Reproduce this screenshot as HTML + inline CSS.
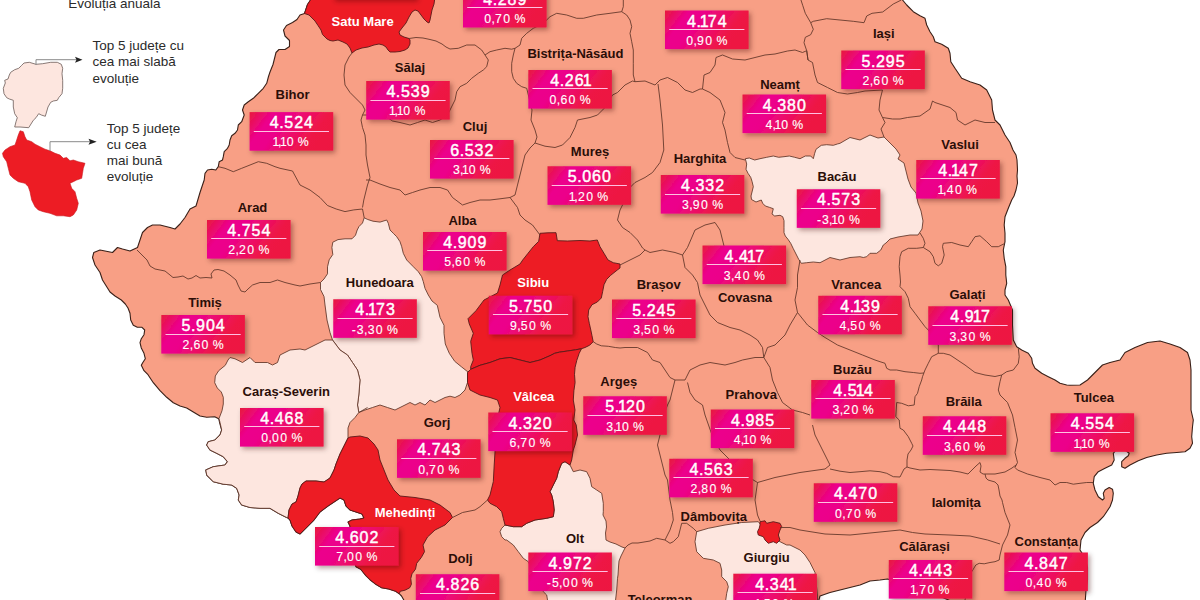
<!DOCTYPE html>
<html><head><meta charset="utf-8"><style>
html,body{margin:0;padding:0;background:#fff;}
body{width:1200px;height:600px;overflow:hidden;position:relative;font-family:"Liberation Sans",sans-serif;}
svg{position:absolute;left:0;top:0;}
</style></head><body>
<svg width="1200" height="600" viewBox="0 0 1200 600" font-family="Liberation Sans, sans-serif">
<defs>
<filter id="sh" x="-20%" y="-30%" width="150%" height="180%">
<feDropShadow dx="2.2" dy="2.4" stdDeviation="2.4" flood-color="#3a0000" flood-opacity="0.38"/>
</filter>
</defs>

<polygon points="310.5,-3 902.5,-3 902.5,0 906.7,5 913.3,11.7 920,15.8 925,18.3 926.7,25 930,31.7 933.3,36.7 935,41.7 941.7,44.2 948.3,48.3 950,53.3 950.8,61.7 955,68.3 961.7,78.3 970,81.7 980,85 986.7,90 991.7,100 992.5,110 995,120 1000,125 1005,135 1010,142.5 1013,150 1016,155 1017,160 1017.5,170 1017,176 1017.5,183 1016,190 1014,196 1011.7,200 1008.3,208.3 1005,216.7 1004.2,225 1005,233.3 1005,241.7 1003.3,250 1004.2,258.3 1005.8,266.7 1005.8,275 1006.7,283.3 1005,290 1005,295 1008.3,300 1012.5,310 1012.5,325 1013.3,340 1016.7,346.7 1021.7,350 1028.3,353.3 1031.7,358.3 1032.5,363.3 1035,368.3 1041.7,373.3 1048.3,376.7 1055,380 1060,383.3 1066.7,385 1070,385.3 1080,385 1087.5,380 1095,372.5 1102.5,365 1110,362.5 1120,360 1125,352.5 1135,347.5 1147.5,342.5 1160,341 1170,344 1180,347.5 1187.5,352.5 1190,360 1191,370 1191,390 1191,410 1193.3,420 1192.5,426.7 1191.7,436.7 1192.5,443.3 1190,448.3 1185,451.7 1176.7,452.5 1166.7,453.3 1156.7,455 1146.7,457.5 1138.3,460.8 1130,465 1125,468.3 1121.7,466.7 1121.7,461.7 1125,458.3 1128.3,455.8 1129.2,453.3 1125,450 1116,450 1113.3,453.3 1114.2,460 1111.7,465 1105,468.3 1098.3,471.7 1094.2,476.7 1093.3,483.3 1095,490 1098.3,496.7 1102.5,500 1104.2,498.3 1103.3,493.3 1105,490 1109.2,487.5 1112.5,489.2 1113.3,493.3 1112.5,500 1110,506.7 1106.7,511.7 1103.3,516.7 1100,520 1097.5,522.5 1090,527.5 1085,532.5 1081,540 1080,550 1085,557.5 1087.5,567.5 1087.5,580 1086,590 1085,605 960,605 930,592 887.5,579 880,580 870,581 860,585 850,587.5 840,590 830,592.5 820,596 817.5,605 405,605 403.8,600 401.5,596 399.2,593.7 395.7,591.3 388.7,589 381.7,587.8 375.8,584.3 370,579.7 365.3,575 360.7,569.2 356,566.8 352,555 350,540 350,527.5 350,526 348,522 352,520 360,519 364,518 362,514 356,512 350,510 346,506 344,500 340,498 334,502 328,506 320,512 314,520 306,528 300,534 296,532 292,526 290,520 288,518 286.7,517.5 278.3,513.3 270,508.3 260,508.3 250,507.5 241.7,505 238.3,500 239.2,495 236.7,488.3 231.7,485 223.3,484.2 213.3,481.7 206.7,475 205.8,470 213.3,466.7 225,465 227.5,461.7 223.3,456.7 216.7,453.3 210,450 206.7,445 208.3,441.7 215,440 220,435 221.7,430 220,424 218.7,418.7 214.7,416.7 206.7,417.3 200,416 193.3,412 186.7,408 180,406 173.3,402.7 166.7,397.3 160,390.7 153.3,382.7 148,374.7 144,370.7 141.3,365.3 142.7,362.7 145.3,358.7 144,353.3 141.3,348 140,342.7 141.3,338.7 144,334.7 144.7,330 142,327.3 137.3,327.3 133.3,325.3 130.7,320 130,313.3 128,308 125.3,304 121.3,300 115,296 110,292 107.5,288 102.5,280 100,272.5 95,265 92.5,257.5 93.8,252.5 100,250 105,251 112.5,252.5 115,250 117.5,247.5 122.5,249 130,251 137.5,247.5 140,240 142.5,232.5 147.5,227.5 152.5,225 160,225 170,227.5 175,229 180,224 185,217.5 190,209 196,206 197.5,201 200,192.5 202.5,185 204.2,180 205,173.3 207.5,170 211.7,169.2 215.8,170 218.3,166.7 219.2,161.7 222.5,160 223.3,156.7 224.2,151.7 227.5,148.3 229.2,145 230,140 231.7,135.8 235,133.3 237.5,130 238.3,125 241.7,121.7 244.2,115 242.5,110 244.2,105 248.3,101.7 253.3,98.3 258.3,93.3 263.3,88.3 266.7,83.3 266.7,83.3 268.5,76.5 270,72 273,64.5 274.5,58.5 276,52.5 279,49.5 285,49.5 289.5,46.5 289.5,40.5 285,36 283.5,30 286.5,25.5 292.5,22.5 297,19.5 300,15 304.5,13.5 306,9 307.5,4.5 310.5,0" fill="#f89f85" stroke="#3a2018" stroke-width="1.1" stroke-linejoin="round"/>
<polygon points="364.2,217.8 367.8,219.5 373,221.2 380,222.1 386.7,220 388.3,223.3 390,230 393.3,233.3 396.7,236.7 400,241.7 401.7,246.7 403.3,253.3 406.7,260 413.3,266.7 418.3,271.7 421.7,276.7 423.3,281.7 425,288.3 428.3,295 432,301 437.3,305.3 440,317.3 444,325.3 444,333.3 445.3,344 449.3,353.3 454.7,361.3 461.3,366.7 468,372 467.5,375 467.5,382.5 465,390 460,395 455,397.5 450,396.2 445,397.5 440,400 435,402.5 430,400 425,405 420,402.5 415,405 410,402.5 405,405 400,407.5 395,410 387.5,407.5 380,405 372.5,407.5 365,410 358.8,412.5 357.5,405 358.8,395 360,380 357.5,370 352.5,362.5 347.5,355 340,350 332.5,340 330,332.5 327,320 325,305 324,296.5 320.5,289.5 320.5,282.5 324,279 327.5,273.8 327.5,266.8 329.2,259.8 332.8,254.5 331.9,247.5 332.8,242.2 338,239.6 345,238.8 352,238.8 355.5,235.2 357.2,230 359,226.5 362.5,223" fill="#fde6df" stroke="#5e3427" stroke-width="0.85" stroke-linejoin="round"/>
<polygon points="219,418.5 222,410.7 223.3,404 223.3,397.3 221.3,392 217.3,388 214.7,382.7 215.3,376 218.7,370.7 225.3,365.3 228,360 230,357.5 235,358.8 242.5,362.5 250,357.5 255,362.5 267.5,362.5 272.5,365 277.5,362.5 280,355 290,350 300,349 305,350 310,347.5 315,345 325,340 332.5,340 340,350 347.5,355 352.5,362.5 357.5,370 360,380 358.8,395 357.5,405 358.8,412.5 355,417.5 350,422.5 348,428 348,438 344,446 340,454 336,464 334,470 330,478 324,482 316,481 306,481 302,484 300,488 298,496 296,502 292,504 289,510 288,518 286.7,517.5 278.3,513.3 270,508.3 260,508.3 250,507.5 241.7,505 238.3,500 239.2,495 236.7,488.3 231.7,485 223.3,484.2 213.3,481.7 206.7,475 205.8,470 213.3,466.7 225,465 227.5,461.7 223.3,456.7 216.7,453.3 210,450 206.7,445 208.3,441.7 215,440 220,435 221.7,430 220,422.5" fill="#fde6df" stroke="#5e3427" stroke-width="0.85" stroke-linejoin="round"/>
<polygon points="745.3,158.7 749.3,158 754.7,160 760,158.7 766.7,157.3 773.3,156 778.7,157.3 784,156.7 789.3,156 794.7,157.3 800,158.7 805.3,156 810.7,156 813.3,158.7 814.7,153.3 816,149.3 821.3,145.3 826.7,144.7 833.3,145.3 837.3,144 840,143.3 850,137.5 860,140 870,135 878,138 884,137 890,143 896,149 900,155 898,159 904,163 906,171 908,179 911,187 916,193 918,203 921,211 923,221 922,229 918,235 910,235 898,237 890,239 886,243 883.3,245 880.8,250 876.7,253.3 870,253.3 866.7,256.7 863.3,257.5 860,256.7 850,257.5 840,260 830,257.5 820,262.7 813.3,262 806.7,262.7 801.3,263.3 798.7,259.3 796,254 793.3,248.7 790.7,243.3 788,239.3 785.3,236 784,232.7 784,227.3 784,220.7 782.7,216.7 780,215.3 774.7,216 772,214 773.3,208.7 769.3,207.3 765.3,206 762.7,203.3 761.3,200 756,202 751.5,199.5 751,196 752,192 753.3,186.7 752,181.3 750.7,177.3 748,173.3 746,169.3 746.7,164" fill="#fde6df" stroke="#5e3427" stroke-width="0.85" stroke-linejoin="round"/>
<polygon points="561.7,463.3 565,461.7 570,465 573.3,471.7 580,470 586.7,471.7 590,478.3 591.7,486.7 596.7,490 601.7,493.3 603.3,503.3 603.3,511.7 603,515 606,521 606.5,527 605.5,533 606,540 610,542 616,544 622,547 625,548 623,552 621,556 619,561 618.5,567 618,575 617.5,578.3 616.7,590 615,605 548.3,605 546.7,595 543.3,591.7 535,575 528.3,561.7 523.3,558.3 518.3,551.7 513.3,545 506.7,540 505,540 501.7,536.7 500,531.7 501.7,528.3 505,525 513.3,526.7 521.7,526.7 526.7,523.3 535,520 546.7,518.3 553.3,516.7 554.2,510 553.3,501.7 551.7,495 550,491.7 553.3,485 556.7,478.3 558.3,471.7" fill="#fde6df" stroke="#5e3427" stroke-width="0.85" stroke-linejoin="round"/>
<polygon points="696.7,531.7 708.3,528.3 725,525 741.7,522.5 758.3,521.7 765,530 775,538 780,541.7 786.7,545 790,545 800,550 805,555 810,562.5 815,572.5 816,582.5 817.5,595 817.5,605 725,605 726.7,593.3 728.3,586.7 726.7,581.7 721.7,576.7 721.7,570 720,563.3 713.3,560 703.3,558.3 696.7,551.7 695,541.7" fill="#fde6df" stroke="#5e3427" stroke-width="0.85" stroke-linejoin="round"/>
<polygon points="310.5,-3 310.5,0 307.5,4.5 306,9 304.5,13.5 309,15 312,18 315,21 318,25.5 321,30 322.5,34.5 327,39 330,40.5 333,41 338,40 343,42 347,44 350,48 352,53 356,50 362,48 368,47 374,45 379,44 383,45 386,47 388,50 390,52 395,52 400,51.5 405,50 408,48 410,44 410,40 409,38.5 404,37 400,35 399,32 402,28 406,23 409,17 412,12 415,10 418,11 421,15 424,19 427,22 429,23 430,20 431,15 432,10 434,4 435,-3" fill="#ed1c24" stroke="#5a1a18" stroke-width="0.9" stroke-linejoin="round"/>
<polygon points="540,233.3 548,232.8 556,232.7 557.3,240.7 567.5,241 580,240.5 590,241 597.3,240 600,246.7 604,253.3 608,260 613.3,262.7 620,264 620,268 617.3,270 610.7,275.3 606.7,279.3 604,284.7 602.7,291.3 601.3,298 597.3,302 592,304.7 588.7,310 588,316.7 589.3,323.3 590.8,330 592,335.8 593.2,341.7 589.7,345.2 585,347.5 581.5,348.7 575.7,349.8 567.5,351 559.3,352.2 554.7,353.3 550,355.7 540,360 530,362.5 520,360 510,357.5 500,358.8 490,362.5 480,365.3 470.7,369.3 470.7,366.7 473.3,360 472,353.3 470.7,341.3 473.3,333.3 469.3,324 468,318.7 476,310.7 484,300 497.5,293 500,285 502.5,275 510,270 520,264 522.7,260 528,253.3 533.3,246.7 538.7,241.3" fill="#ed1c24" stroke="#5a1a18" stroke-width="0.9" stroke-linejoin="round"/>
<polygon points="470.7,369.3 480,365.3 490,362.5 500,358.8 510,357.5 520,360 530,362.5 540,360 550,355.7 554.7,353.3 559.3,352.2 567.5,351 575.7,349.8 581.5,348.7 579.2,353.3 576.8,360.3 575.1,367.3 574.5,374.3 575.1,382.5 573.9,390.7 573.3,400 575,410 573.8,420 576.2,425 577.5,435 575,445 573.3,450 571.7,460 570,465 565,461.7 561.7,463.3 558.3,471.7 556.7,478.3 553.3,485 550,491.7 551.7,495 553.3,501.7 554.2,510 553.3,516.7 546.7,518.3 535,520 526.7,523.3 521.7,526.7 513.3,526.7 505,525 503.3,518.3 501.7,511.7 496.7,506.7 490,503.3 487.5,500 490,495 493.3,481.7 494.2,465 495,452 495,430 500,407.5 497.5,400 490,397.5 480,395 470,390 467.5,382.5 467.5,372.5" fill="#ed1c24" stroke="#5a1a18" stroke-width="0.9" stroke-linejoin="round"/>
<polygon points="348,438 350,437 360,436 368,438 374,444 378,450 380,460 384,470 388,480 394,490 400,496 415,497.5 430,500 440,505 450,512.5 452.5,517.5 445,525 435,530 427.5,537 423,545 424.5,551.7 421.3,557.5 416.7,563.3 415.5,569.2 412,573.8 410.8,578.5 411.4,584.3 409.7,587.8 405,590.2 400.3,591.3 399.2,593.7 395.7,591.3 388.7,589 381.7,587.8 375.8,584.3 370,579.7 365.3,575 360.7,569.2 356,566.8 352,555 350,540 350,527.5 350,526 348,522 352,520 360,519 364,518 362,514 356,512 350,510 346,506 344,500 340,498 334,502 328,506 320,512 314,520 306,528 300,534 296,532 292,526 290,520 288,518 289,510 292,504 296,502 298,496 300,488 302,484 306,481 316,481 324,482 330,478 334,470 336,464 340,454 344,446" fill="#ed1c24" stroke="#5a1a18" stroke-width="0.9" stroke-linejoin="round"/>
<polygon points="760,521.7 765,520.8 766.7,523.3 773.3,521.7 780,523.3 781.7,526.7 780,530 778.3,535 780,540 776.7,543.3 773.3,541.7 768.3,543.3 765,540 763.3,536.7 758.3,535 757.5,531.7 759.2,528.3 760,525" fill="#ed1c24" stroke="#5a1a18" stroke-width="0.9" stroke-linejoin="round"/>
<polyline points="352,53 349,57 345,65 344,75 345,85 350,92.5 357.5,100 362.5,105 365,110 362.5,115 361,120 362.5,127.5 365,135 366,145 366,155 367.5,165 370,177.5 367.5,185 363.8,200 362.5,207.5" fill="none" stroke="#5e3427" stroke-width="0.85" stroke-linejoin="round"/>
<polyline points="409,38.5 416,37.5 423,38 430,39.5 436,41 442,44 446,47 450,49 458.3,48.3 466.7,45 475,45 481.7,50 485,55 490,51.7 496.7,50 505,48.3 511.7,49.2 515,48.3 520,45 521.7,38.3 526.7,33.3 533.3,28.3 543.3,23.3 550,16.7 556.7,13.3 566.7,15 576.7,18.3 583.3,18.3 596.7,15 610,13.3 621.7,11.7 623.3,6.7 623.3,-3" fill="none" stroke="#5e3427" stroke-width="0.85" stroke-linejoin="round"/>
<polyline points="621.7,11.7 626.7,15 630,20 631.7,26.7 630,33.3 631.7,41.7 633.3,50 633.3,63.3 633.3,75 635,81.7" fill="none" stroke="#5e3427" stroke-width="0.85" stroke-linejoin="round"/>
<polyline points="485,55 488.3,60 486.7,66.7 483.3,70 478.3,73.3 471.7,78.3 466.7,83.3 460,86.7 456.7,91.7 455,100 450,110 447.5,115 440,120 432.5,122.5 425,120 417.5,122.5 410,125 400,122.5 392.5,121 387.5,117.5 375,115 362.5,115" fill="none" stroke="#5e3427" stroke-width="0.85" stroke-linejoin="round"/>
<polyline points="515,48.3 513.3,55 511.7,63.3 511.7,71.7 513.3,78.3 516.7,83.3 521.7,86.7 526.7,88.3 532,110 531,120 535,130 537,137 535,143 530,148 525,155 522.5,165 520,175 517.5,185 515,195 510,197.5" fill="none" stroke="#5e3427" stroke-width="0.85" stroke-linejoin="round"/>
<polyline points="535,143 545,146.2 555,147.5 562.5,145 570,137.5 575,127.5 577.5,120 590,117.5 597.5,115 602.5,110 605,107.5 612.5,95 617.5,92.5 625,85 632.5,81 635,81.7" fill="none" stroke="#5e3427" stroke-width="0.85" stroke-linejoin="round"/>
<polyline points="635,81.7 645,81 655,85 660,80 667.5,77.5 677.5,82.5 685,90 692.5,92.5 700,89 702.5,89" fill="none" stroke="#5e3427" stroke-width="0.85" stroke-linejoin="round"/>
<polyline points="658,84 660,100 662.5,125 663.8,150 660,162.5 652.5,172.5 645,177.5 635,182.5 627.5,190 625,200 620,210 617.5,220 622.5,227.5 630,232.5 637.5,240 642.5,248 645,250" fill="none" stroke="#5e3427" stroke-width="0.85" stroke-linejoin="round"/>
<polyline points="702.5,89 710,92.5 720,100 725,112.5 722.5,122.5 725,130 727.5,142.5 730,152.5 735,157.5 745,160" fill="none" stroke="#5e3427" stroke-width="0.85" stroke-linejoin="round"/>
<polyline points="702.5,89 704,75 710,72.5 715,65 716,57.5 722.5,55 732.5,59 745,60 755,57.5 765,55 775,54 787.5,51 795,50 802.5,52.5 806.7,50.7" fill="none" stroke="#5e3427" stroke-width="0.85" stroke-linejoin="round"/>
<polyline points="808,60 806.7,50.7 804,42.7 805.3,37.3 810.7,34.7 813.3,29.3 810.7,22.7 805.3,13.3 802.7,5.3 800,-3" fill="none" stroke="#5e3427" stroke-width="0.85" stroke-linejoin="round"/>
<polyline points="810.7,22.7 813.3,21.3 826.7,18.7 840,20 853.3,21.3 864,22.7 866.7,16 872,13.3 882.7,12 888,8 893.3,4 901.3,0" fill="none" stroke="#5e3427" stroke-width="0.85" stroke-linejoin="round"/>
<polyline points="806.7,50.7 808,60 812.5,62.5 815,75 817.5,82.5 827.5,87.5 837.5,92.5 847.5,94 857.5,92.5 865,91 882.5,90 880,100 879,110 882.5,117.5" fill="none" stroke="#5e3427" stroke-width="0.85" stroke-linejoin="round"/>
<polyline points="882.5,117.5 892.5,119 900,119 907.5,117.5 920,116 930,109 932.5,101 935,102.5 950,107.5 956,112.5 957.5,120 965,125 975,120 985,122.5 995,122.5" fill="none" stroke="#5e3427" stroke-width="0.85" stroke-linejoin="round"/>
<polyline points="882.5,117.5 885,122.5 881,129 884,137" fill="none" stroke="#5e3427" stroke-width="0.85" stroke-linejoin="round"/>
<polyline points="218.3,166.7 225,168.3 233.3,171.7 241.7,168.3 250,165 258.3,161.7 266.7,163.3 275,166.7 280,168.3 292.5,171 300,185 310,190 320,197.5 327.5,205.5 336.2,209 345,211.6 353.8,209.9 362.5,209" fill="none" stroke="#5e3427" stroke-width="0.85" stroke-linejoin="round"/>
<polyline points="362.5,209 364.2,217.8" fill="none" stroke="#5e3427" stroke-width="0.85" stroke-linejoin="round"/>
<polyline points="366,180 370,180 380,184 390,187.5 400,190 405,195 412.5,192.5 420,190 430,187.5 440,187.5 447.5,190 452.5,197.5 462.5,205 470,202.5 480,200 490,200 500,198.8 510,197.5" fill="none" stroke="#5e3427" stroke-width="0.85" stroke-linejoin="round"/>
<polyline points="510,197.5 517.5,207.5 520,215 525,220 532.5,225 540,235" fill="none" stroke="#5e3427" stroke-width="0.85" stroke-linejoin="round"/>
<polyline points="620,265 630,260 640,255 645,250 650,252.5 662.5,250 675,252.5 682.5,255" fill="none" stroke="#5e3427" stroke-width="0.85" stroke-linejoin="round"/>
<polyline points="682.5,255 687.5,247.5 695,230 705,225 715,222.5 720,230 722.5,240 725,250" fill="none" stroke="#5e3427" stroke-width="0.85" stroke-linejoin="round"/>
<polyline points="137,250 142,255 147,260 150,266 155,269 160,270 165,271 170,275 173,277.5 178,277 183,276 188,279 192,278 196,275.5 200,278 206,277.5 212,278 211,274 214,270 218,269.5 224,271 230,275 236,280 238,285 241,291 245,292 248,289 252.5,285 260,282.5 270,282.5 277.5,280 285,282.5 295,285 300,286 310,284 320.5,282.5" fill="none" stroke="#5e3427" stroke-width="0.85" stroke-linejoin="round"/>
<polyline points="682.5,255 685,267.5 692.5,275 697.5,282.5 700,295 705,305 710,315 717.5,322.5 730,327.5 740,330 750,335 757.5,340 762.5,347.5 763.8,357.5" fill="none" stroke="#5e3427" stroke-width="0.85" stroke-linejoin="round"/>
<polyline points="800,260 797.5,275 797.5,287.5 795,300 797.5,312.5 790,325 785,335 780,340 775,345 767.5,347.5 763.8,357.5" fill="none" stroke="#5e3427" stroke-width="0.85" stroke-linejoin="round"/>
<polyline points="797.5,312.5 807.5,325 817.5,332.5 825,337.5 837.5,345 850,350 862.5,355 875,360 880,361.7 885,363.3 886.7,368.3 890,370 896.7,370 905,371.7 913.3,372.5 920,373.3 924,373" fill="none" stroke="#5e3427" stroke-width="0.85" stroke-linejoin="round"/>
<polyline points="920,233 923.3,238.3 925,243.3 923.3,247.5 930,251.7 933.3,256.7 935,263.3 938.3,265.8 941.7,263.3 944.2,255 942.5,246.7 943.3,243.3 951.7,242.5 960,245 968.3,246.7 971.7,241.7 975,236.7 980,235.8 986.7,241.7 991.7,246.7 998.3,246.7 1005,243.3" fill="none" stroke="#5e3427" stroke-width="0.85" stroke-linejoin="round"/>
<polyline points="923.3,247.5 916.7,248.3 908.3,248.3 901.7,251.7 900,256.7 899.2,266.7 900,275 900.5,282 900,286.7 905,291.7 908.3,298.3 910,306.7 915,313.3 920,320 925,326.7 928.3,330 935,340 938.3,345 938.3,353.3" fill="none" stroke="#5e3427" stroke-width="0.85" stroke-linejoin="round"/>
<polyline points="938.3,353.3 943.3,353.3 950,355 955,358.3 960,361.7 965,365 975,372.5 985,375 995,376.5 1001.7,375" fill="none" stroke="#5e3427" stroke-width="0.85" stroke-linejoin="round"/>
<polyline points="1018.3,348.3 1019.2,356.7 1018.3,363.3 1013.3,370 1006.7,371.7 1001.7,375 1000,381.7 998.3,390 1000,395 1007.5,402.5 1012.5,415 1015,427.5 1017.5,440 1015,452.5 1017.5,462.5 1015,467.5" fill="none" stroke="#5e3427" stroke-width="0.85" stroke-linejoin="round"/>
<polyline points="1015,467.5 1017.5,470 1027.5,474 1040,477.5 1050,480 1055,485 1060,482.5 1066.7,482.5 1073.3,484.2 1080,483.3 1086.7,482.5 1093.3,482.5" fill="none" stroke="#5e3427" stroke-width="0.85" stroke-linejoin="round"/>
<polyline points="938.3,353.3 931.7,356.7 928.3,363.3 925,370 922.5,376.7 921.7,380 919.2,386.7 917.5,393.3 915,396.7 914.2,405 908.3,405.8 901.7,403.3 896.7,402.5 895.8,416.7 899.2,420 900,428.3 903.3,430 908.3,436.7 911.7,443.3 913,446 911,450 908,454 907,460 907,467" fill="none" stroke="#5e3427" stroke-width="0.85" stroke-linejoin="round"/>
<polyline points="907,467 910,468 920,470 930,469.5 940,470 950,470.5 960,472 968,474 972,470 976,466 980,462.5 981,466 980,472 983,474 987,474 995,474 1005,472 1012,468 1016,465" fill="none" stroke="#5e3427" stroke-width="0.85" stroke-linejoin="round"/>
<polyline points="985,474 986,478 988,480 995,482 998,485 999,490 1000,496 1002,500 1002.5,502.5 1005,512.5 1010,525 1007.5,535 1002.5,545 1000,555 999.2,560 995,561.7 990,562.5 984.2,563.8 979.2,563.3 975.8,565 973.3,569.2 971.2,572.5 968,585 965,600" fill="none" stroke="#5e3427" stroke-width="0.85" stroke-linejoin="round"/>
<polyline points="780,527.5 790,527.5 800,530 825,534 850,535 875,532.5 900,530 912.5,532.5 925,534 950,535 970,536 987.5,540 1000,544" fill="none" stroke="#5e3427" stroke-width="0.85" stroke-linejoin="round"/>
<polyline points="757.5,482.5 775,477.5 800,472.5 825,469 830,465 825,455 822.5,450 815,435 812.5,425" fill="none" stroke="#5e3427" stroke-width="0.85" stroke-linejoin="round"/>
<polyline points="830,469 840,471.2 850,472.5 860,471.7 870,470.8 880,471.7 886.7,473.3 890,475 893.3,476.7 900,477 902,473 904,469 907,467" fill="none" stroke="#5e3427" stroke-width="0.85" stroke-linejoin="round"/>
<polyline points="763.8,357.5 770,367.5 772.5,380 777.5,392.5 782.5,402.5 792.5,410 802.5,412.5 810,415" fill="none" stroke="#5e3427" stroke-width="0.85" stroke-linejoin="round"/>
<polyline points="593.2,341.7 596.7,344 601.3,345.8 608.3,346.3 615.3,347.5 620,348 625,347.5 637.5,347.5 647.5,352.5 652.5,360 660,362.5 665,370 670,377.5 675,380 685,380 690,370 700,365 710,362.5 725,365 735,362.5 742.5,360 755,357.5 763.8,357.5" fill="none" stroke="#5e3427" stroke-width="0.85" stroke-linejoin="round"/>
<polyline points="675,380 672.5,390 670,400 667.5,405 662,420 660,435 657.5,445 660,455 662.5,465 665,475 667.5,480 670,500 672.5,512.5 673.3,520 670,530 665,540" fill="none" stroke="#5e3427" stroke-width="0.85" stroke-linejoin="round"/>
<polyline points="687.5,382.5 690,392.5 695,400 702.5,405 705,415 712,435 720,450 725,455 730,460 740,470 750,478 757.5,482.5 755,500 757.5,515 760,521" fill="none" stroke="#5e3427" stroke-width="0.85" stroke-linejoin="round"/>
<polyline points="625,548 628,545 632,543 638,543 644,542 650,541 656.7,538.3 665,540 670,543.3 673.3,541.7 678.3,536.7 680,530 681.7,523.3 686.7,523.3 693.3,528.3 696.7,531.7" fill="none" stroke="#5e3427" stroke-width="0.85" stroke-linejoin="round"/>
<polyline points="452.5,517.5 462.5,512.5 475,510 480,506.7 487.5,500" fill="none" stroke="#5e3427" stroke-width="0.85" stroke-linejoin="round"/>
<polyline points="358.8,412.5 367.5,407.5" fill="none" stroke="#5e3427" stroke-width="0.85" stroke-linejoin="round"/>
<polygon points="24,63 29.3,62.3 36,64.3 42.7,63.7 50.7,62.3 57.3,62.3 61.3,64.3 62.7,68.3 62,73.7 62.7,80.3 62.7,88.3 62,93.7 58.7,97.7 57.3,100.3 53.3,101 50.7,102.3 48,107 45.3,116.3 41.3,115 38.7,113.7 36,117.7 33.3,120.3 28.7,127.7 20,127 14.7,127 16,121.7 17.3,117.7 14.7,113.7 13.3,107 13.3,100.3 9.3,99 6.7,97.7 4,93.7 3.3,88.3 5.3,83 4.7,80.3 8,79 9.3,75 10.7,72.3 14.7,69.7 18.7,68.3 21.3,65.7" fill="#fde6df" stroke="#6b5b57" stroke-width="0.8"/>
<polygon points="20,130.8 23.3,131.7 25,136.7 26.7,140 31.7,141.7 35,144.2 40,146.7 45,149.2 50,150.8 55,153.3 60,155 63.3,158.3 66.7,157.5 70,160.8 73.3,160 78.3,161.7 85,163.3 83.3,168.3 82.5,173.3 81.7,178.3 76.7,180 73.3,181.7 70,183.3 71.7,188.3 75,191.7 76.7,198.3 78.3,203.3 76.7,210 73.3,215 70,216.7 63.3,215.8 56.7,215.8 50,213.3 43.3,211.7 38.3,210 35,206.7 31.7,200 30,191.7 28.3,186.7 25,183.3 18.3,181.7 13.3,178.3 10,175 8.3,168.3 6.7,161.7 3.3,156.7 2.5,153.3 5,150 10,146.7 15,145 16.7,140 18.3,135" fill="#ed1c24" stroke="#c8161d" stroke-width="0.6"/>
<polyline points="36,65 36,59.7 77,59.7" fill="none" stroke="#8a8a8a" stroke-width="1"/>
<polygon points="75,56.7 82.5,59.7 75,62.7 76.5,59.7" fill="#222"/>
<polyline points="50,151 50,141.7 90,141.7" fill="none" stroke="#8a8a8a" stroke-width="1"/>
<polygon points="88.5,138.7 96.7,141.7 88.5,144.7 90,141.7" fill="#222"/>
<text x="68.3" y="7.5" font-size="13.5" fill="#2b2b2b">Evoluția anuală</text>
<text x="92.5" y="50" font-size="13.5" fill="#2b2b2b">Top 5 județe cu</text>
<text x="92.5" y="66.2" font-size="13.5" fill="#2b2b2b">cea mai slabă</text>
<text x="92.5" y="82.5" font-size="13.5" fill="#2b2b2b">evoluție</text>
<text x="106.7" y="132.7" font-size="13.5" fill="#2b2b2b">Top 5 județe</text>
<text x="106.7" y="148.7" font-size="13.5" fill="#2b2b2b">cu cea</text>
<text x="106.7" y="164.7" font-size="13.5" fill="#2b2b2b">mai bună</text>
<text x="106.7" y="180.7" font-size="13.5" fill="#2b2b2b">evoluție</text>
<text transform="translate(362.6,26.2) scale(0.96,1)" font-size="13.55" font-weight="bold" text-anchor="middle" fill="#ffffff">Satu Mare</text>
<text transform="translate(883.75,38.05) scale(0.96,1)" font-size="13.55" font-weight="bold" text-anchor="middle" fill="#2b0e08">Iași</text>
<text transform="translate(575.4,57.6) scale(0.96,1)" font-size="13.55" font-weight="bold" text-anchor="middle" fill="#2b0e08">Bistrița-Năsăud</text>
<text transform="translate(410,71.8) scale(0.96,1)" font-size="13.55" font-weight="bold" text-anchor="middle" fill="#2b0e08">Sălaj</text>
<text transform="translate(780,89.3) scale(0.96,1)" font-size="13.55" font-weight="bold" text-anchor="middle" fill="#2b0e08">Neamț</text>
<text transform="translate(292.5,99.05) scale(0.96,1)" font-size="13.55" font-weight="bold" text-anchor="middle" fill="#2b0e08">Bihor</text>
<text transform="translate(475,130.55) scale(0.96,1)" font-size="13.55" font-weight="bold" text-anchor="middle" fill="#2b0e08">Cluj</text>
<text transform="translate(960,149.3) scale(0.96,1)" font-size="13.55" font-weight="bold" text-anchor="middle" fill="#2b0e08">Vaslui</text>
<text transform="translate(590,156.3) scale(0.96,1)" font-size="13.55" font-weight="bold" text-anchor="middle" fill="#2b0e08">Mureș</text>
<text transform="translate(700,163.05) scale(0.96,1)" font-size="13.55" font-weight="bold" text-anchor="middle" fill="#2b0e08">Harghita</text>
<text transform="translate(837,180.55) scale(0.96,1)" font-size="13.55" font-weight="bold" text-anchor="middle" fill="#2b0e08">Bacău</text>
<text transform="translate(252.5,212.3) scale(0.96,1)" font-size="13.55" font-weight="bold" text-anchor="middle" fill="#2b0e08">Arad</text>
<text transform="translate(462.5,224.8) scale(0.96,1)" font-size="13.55" font-weight="bold" text-anchor="middle" fill="#2b0e08">Alba</text>
<text transform="translate(533.25,287.3) scale(0.96,1)" font-size="13.55" font-weight="bold" text-anchor="middle" fill="#ffffff">Sibiu</text>
<text transform="translate(379.8,286.8) scale(0.96,1)" font-size="13.55" font-weight="bold" text-anchor="middle" fill="#2b0e08">Hunedoara</text>
<text transform="translate(658.75,288.8) scale(0.96,1)" font-size="13.55" font-weight="bold" text-anchor="middle" fill="#2b0e08">Brașov</text>
<text transform="translate(856.25,288.8) scale(0.96,1)" font-size="13.55" font-weight="bold" text-anchor="middle" fill="#2b0e08">Vrancea</text>
<text transform="translate(967.5,298.8) scale(0.96,1)" font-size="13.55" font-weight="bold" text-anchor="middle" fill="#2b0e08">Galați</text>
<text transform="translate(745,301.8) scale(0.96,1)" font-size="13.55" font-weight="bold" text-anchor="middle" fill="#2b0e08">Covasna</text>
<text transform="translate(205,306.8) scale(0.96,1)" font-size="13.55" font-weight="bold" text-anchor="middle" fill="#2b0e08">Timiș</text>
<text transform="translate(852.5,373.8) scale(0.96,1)" font-size="13.55" font-weight="bold" text-anchor="middle" fill="#2b0e08">Buzău</text>
<text transform="translate(618.75,385.55) scale(0.96,1)" font-size="13.55" font-weight="bold" text-anchor="middle" fill="#2b0e08">Argeș</text>
<text transform="translate(286.25,395.55) scale(0.96,1)" font-size="13.55" font-weight="bold" text-anchor="middle" fill="#2b0e08">Caraș-Severin</text>
<text transform="translate(751.25,399.3) scale(0.96,1)" font-size="13.55" font-weight="bold" text-anchor="middle" fill="#2b0e08">Prahova</text>
<text transform="translate(533.75,400.55) scale(0.96,1)" font-size="13.55" font-weight="bold" text-anchor="middle" fill="#ffffff">Vâlcea</text>
<text transform="translate(1093.75,401.8) scale(0.96,1)" font-size="13.55" font-weight="bold" text-anchor="middle" fill="#2b0e08">Tulcea</text>
<text transform="translate(963.75,406.3) scale(0.96,1)" font-size="13.55" font-weight="bold" text-anchor="middle" fill="#2b0e08">Brăila</text>
<text transform="translate(437,426.8) scale(0.96,1)" font-size="13.55" font-weight="bold" text-anchor="middle" fill="#2b0e08">Gorj</text>
<text transform="translate(956.25,506.8) scale(0.96,1)" font-size="13.55" font-weight="bold" text-anchor="middle" fill="#2b0e08">Ialomița</text>
<text transform="translate(405,517.3) scale(0.96,1)" font-size="13.55" font-weight="bold" text-anchor="middle" fill="#ffffff">Mehedinți</text>
<text transform="translate(713.75,520.55) scale(0.96,1)" font-size="13.55" font-weight="bold" text-anchor="middle" fill="#2b0e08">Dâmbovița</text>
<text transform="translate(575,543.05) scale(0.96,1)" font-size="13.55" font-weight="bold" text-anchor="middle" fill="#2b0e08">Olt</text>
<text transform="translate(1046.25,545.55) scale(0.96,1)" font-size="13.55" font-weight="bold" text-anchor="middle" fill="#2b0e08">Constanța</text>
<text transform="translate(924.5,550.55) scale(0.96,1)" font-size="13.55" font-weight="bold" text-anchor="middle" fill="#2b0e08">Călărași</text>
<text transform="translate(766.7,562.3) scale(0.96,1)" font-size="13.55" font-weight="bold" text-anchor="middle" fill="#2b0e08">Giurgiu</text>
<text transform="translate(460.4,563) scale(0.96,1)" font-size="13.55" font-weight="bold" text-anchor="middle" fill="#2b0e08">Dolj</text>
<text transform="translate(660,603.5) scale(0.96,1)" font-size="13.55" font-weight="bold" text-anchor="middle" fill="#2b0e08">Teleorman</text>
<linearGradient id="g0" gradientUnits="userSpaceOnUse" x1="338.14" y1="-47.42" x2="410.46" y2="6.82"><stop offset="0" stop-color="#e81a3c"/><stop offset="0.22" stop-color="#ec008c"/><stop offset="0.36" stop-color="#ec038a"/><stop offset="0.72" stop-color="#ee1744"/><stop offset="1" stop-color="#ed1941"/></linearGradient>
<rect x="332.5" y="-39.6" width="83.6" height="38.6" fill="url(#g0)" filter="url(#sh)"/>
<line x1="336.7" y1="-20.5" x2="411.9" y2="-20.5" stroke="#ffc0e0" stroke-width="1"/>
<text x="358.90 366.15 373.40 383.30 391.45" y="-23.4" font-size="16" text-anchor="middle" fill="#fff" stroke="#fff" stroke-width="0.45">4.571</text>
<text x="358.80 362.60 366.40 373.00 378.60 386.20" y="-5.3" font-size="12.3" text-anchor="middle" fill="#fff" stroke="#fff" stroke-width="0.12">1,10&#160;%</text>
<linearGradient id="g1" gradientUnits="userSpaceOnUse" x1="468.64" y1="-18.92" x2="540.96" y2="35.32"><stop offset="0" stop-color="#e81a3c"/><stop offset="0.22" stop-color="#ec008c"/><stop offset="0.36" stop-color="#ec038a"/><stop offset="0.72" stop-color="#ee1744"/><stop offset="1" stop-color="#ed1941"/></linearGradient>
<rect x="463" y="-11.1" width="83.6" height="38.6" fill="url(#g1)" filter="url(#sh)"/>
<line x1="467.2" y1="7.5" x2="542.4" y2="7.5" stroke="#ffc0e0" stroke-width="1"/>
<text x="487.65 494.90 502.15 512.05 521.95" y="5.1" font-size="16" text-anchor="middle" fill="#fff" stroke="#fff" stroke-width="0.45">4.289</text>
<text x="487.70 493.10 498.50 506.70 512.30 519.90" y="23.2" font-size="12.3" text-anchor="middle" fill="#fff" stroke="#fff" stroke-width="0.12">0,70&#160;%</text>
<linearGradient id="g2" gradientUnits="userSpaceOnUse" x1="670.64" y1="2.68" x2="742.96" y2="56.92"><stop offset="0" stop-color="#e81a3c"/><stop offset="0.22" stop-color="#ec008c"/><stop offset="0.36" stop-color="#ec038a"/><stop offset="0.72" stop-color="#ee1744"/><stop offset="1" stop-color="#ed1941"/></linearGradient>
<rect x="665" y="10.5" width="83.6" height="38.6" fill="url(#g2)" filter="url(#sh)"/>
<line x1="669.2" y1="29.5" x2="744.4" y2="29.5" stroke="#ffc0e0" stroke-width="1"/>
<text x="691.40 698.65 704.15 712.30 722.20" y="26.7" font-size="16" text-anchor="middle" fill="#fff" stroke="#fff" stroke-width="0.45">4.174</text>
<text x="689.70 695.10 700.50 708.70 714.30 721.90" y="44.8" font-size="12.3" text-anchor="middle" fill="#fff" stroke="#fff" stroke-width="0.12">0,90&#160;%</text>
<linearGradient id="g3" gradientUnits="userSpaceOnUse" x1="846.89" y1="42.68" x2="919.21" y2="96.92"><stop offset="0" stop-color="#e81a3c"/><stop offset="0.22" stop-color="#ec008c"/><stop offset="0.36" stop-color="#ec038a"/><stop offset="0.72" stop-color="#ee1744"/><stop offset="1" stop-color="#ed1941"/></linearGradient>
<rect x="841.25" y="50.5" width="83.6" height="38.6" fill="url(#g3)" filter="url(#sh)"/>
<line x1="845.45" y1="69.5" x2="920.65" y2="69.5" stroke="#ffc0e0" stroke-width="1"/>
<text x="865.90 873.15 880.40 890.30 900.20" y="66.7" font-size="16" text-anchor="middle" fill="#fff" stroke="#fff" stroke-width="0.45">5.295</text>
<text x="865.95 871.35 876.75 884.95 890.55 898.15" y="84.8" font-size="12.3" text-anchor="middle" fill="#fff" stroke="#fff" stroke-width="0.12">2,60&#160;%</text>
<linearGradient id="g4" gradientUnits="userSpaceOnUse" x1="533.94" y1="62.18" x2="606.26" y2="116.42"><stop offset="0" stop-color="#e81a3c"/><stop offset="0.22" stop-color="#ec008c"/><stop offset="0.36" stop-color="#ec038a"/><stop offset="0.72" stop-color="#ee1744"/><stop offset="1" stop-color="#ed1941"/></linearGradient>
<rect x="528.3" y="70" width="83.6" height="38.6" fill="url(#g4)" filter="url(#sh)"/>
<line x1="532.5" y1="88.5" x2="607.7" y2="88.5" stroke="#ffc0e0" stroke-width="1"/>
<text x="554.70 561.95 569.20 579.10 587.25" y="86.2" font-size="16" text-anchor="middle" fill="#fff" stroke="#fff" stroke-width="0.45">4.261</text>
<text x="553.00 558.40 563.80 572.00 577.60 585.20" y="104.3" font-size="12.3" text-anchor="middle" fill="#fff" stroke="#fff" stroke-width="0.12">0,60&#160;%</text>
<linearGradient id="g5" gradientUnits="userSpaceOnUse" x1="371.84" y1="73.18" x2="444.16" y2="127.42"><stop offset="0" stop-color="#e81a3c"/><stop offset="0.22" stop-color="#ec008c"/><stop offset="0.36" stop-color="#ec038a"/><stop offset="0.72" stop-color="#ee1744"/><stop offset="1" stop-color="#ed1941"/></linearGradient>
<rect x="366.2" y="81" width="83.6" height="38.6" fill="url(#g5)" filter="url(#sh)"/>
<line x1="370.4" y1="100.5" x2="445.6" y2="100.5" stroke="#ffc0e0" stroke-width="1"/>
<text x="390.85 398.10 405.35 415.25 425.15" y="97.2" font-size="16" text-anchor="middle" fill="#fff" stroke="#fff" stroke-width="0.45">4.539</text>
<text x="392.50 396.30 400.10 406.70 412.30 419.90" y="115.3" font-size="12.3" text-anchor="middle" fill="#fff" stroke="#fff" stroke-width="0.12">1,10&#160;%</text>
<linearGradient id="g6" gradientUnits="userSpaceOnUse" x1="748.14" y1="86.68" x2="820.46" y2="140.92"><stop offset="0" stop-color="#e81a3c"/><stop offset="0.22" stop-color="#ec008c"/><stop offset="0.36" stop-color="#ec038a"/><stop offset="0.72" stop-color="#ee1744"/><stop offset="1" stop-color="#ed1941"/></linearGradient>
<rect x="742.5" y="94.5" width="83.6" height="38.6" fill="url(#g6)" filter="url(#sh)"/>
<line x1="746.7" y1="113.5" x2="821.9" y2="113.5" stroke="#ffc0e0" stroke-width="1"/>
<text x="767.15 774.40 781.65 791.55 801.45" y="110.7" font-size="16" text-anchor="middle" fill="#fff" stroke="#fff" stroke-width="0.45">4.380</text>
<text x="768.80 774.20 778.00 784.60 790.20 797.80" y="128.8" font-size="12.3" text-anchor="middle" fill="#fff" stroke="#fff" stroke-width="0.12">4,10&#160;%</text>
<linearGradient id="g7" gradientUnits="userSpaceOnUse" x1="255.24" y1="104.28" x2="327.56" y2="158.52"><stop offset="0" stop-color="#e81a3c"/><stop offset="0.22" stop-color="#ec008c"/><stop offset="0.36" stop-color="#ec038a"/><stop offset="0.72" stop-color="#ee1744"/><stop offset="1" stop-color="#ed1941"/></linearGradient>
<rect x="249.6" y="112.1" width="83.6" height="38.6" fill="url(#g7)" filter="url(#sh)"/>
<line x1="253.8" y1="131.5" x2="329" y2="131.5" stroke="#ffc0e0" stroke-width="1"/>
<text x="274.25 281.50 288.75 298.65 308.55" y="128.3" font-size="16" text-anchor="middle" fill="#fff" stroke="#fff" stroke-width="0.45">4.524</text>
<text x="275.90 279.70 283.50 290.10 295.70 303.30" y="146.4" font-size="12.3" text-anchor="middle" fill="#fff" stroke="#fff" stroke-width="0.12">1,10&#160;%</text>
<linearGradient id="g8" gradientUnits="userSpaceOnUse" x1="435.64" y1="132.18" x2="507.96" y2="186.42"><stop offset="0" stop-color="#e81a3c"/><stop offset="0.22" stop-color="#ec008c"/><stop offset="0.36" stop-color="#ec038a"/><stop offset="0.72" stop-color="#ee1744"/><stop offset="1" stop-color="#ed1941"/></linearGradient>
<rect x="430" y="140" width="83.6" height="38.6" fill="url(#g8)" filter="url(#sh)"/>
<line x1="434.2" y1="158.5" x2="509.4" y2="158.5" stroke="#ffc0e0" stroke-width="1"/>
<text x="454.65 461.90 469.15 479.05 488.95" y="156.2" font-size="16" text-anchor="middle" fill="#fff" stroke="#fff" stroke-width="0.45">6.532</text>
<text x="456.30 461.70 465.50 472.10 477.70 485.30" y="174.3" font-size="12.3" text-anchor="middle" fill="#fff" stroke="#fff" stroke-width="0.12">3,10&#160;%</text>
<linearGradient id="g9" gradientUnits="userSpaceOnUse" x1="921.89" y1="152.18" x2="994.21" y2="206.42"><stop offset="0" stop-color="#e81a3c"/><stop offset="0.22" stop-color="#ec008c"/><stop offset="0.36" stop-color="#ec038a"/><stop offset="0.72" stop-color="#ee1744"/><stop offset="1" stop-color="#ed1941"/></linearGradient>
<rect x="916.25" y="160" width="83.6" height="38.6" fill="url(#g9)" filter="url(#sh)"/>
<line x1="920.45" y1="178.5" x2="995.65" y2="178.5" stroke="#ffc0e0" stroke-width="1"/>
<text x="942.65 949.90 955.40 963.55 973.45" y="176.2" font-size="16" text-anchor="middle" fill="#fff" stroke="#fff" stroke-width="0.45">4.147</text>
<text x="940.95 944.75 950.15 958.35 963.95 971.55" y="194.3" font-size="12.3" text-anchor="middle" fill="#fff" stroke="#fff" stroke-width="0.12">1,40&#160;%</text>
<linearGradient id="g10" gradientUnits="userSpaceOnUse" x1="553.14" y1="158.43" x2="625.46" y2="212.67"><stop offset="0" stop-color="#e81a3c"/><stop offset="0.22" stop-color="#ec008c"/><stop offset="0.36" stop-color="#ec038a"/><stop offset="0.72" stop-color="#ee1744"/><stop offset="1" stop-color="#ed1941"/></linearGradient>
<rect x="547.5" y="166.25" width="83.6" height="38.6" fill="url(#g10)" filter="url(#sh)"/>
<line x1="551.7" y1="185.5" x2="626.9" y2="185.5" stroke="#ffc0e0" stroke-width="1"/>
<text x="572.15 579.40 586.65 596.55 606.45" y="182.45" font-size="16" text-anchor="middle" fill="#fff" stroke="#fff" stroke-width="0.45">5.060</text>
<text x="572.20 576.00 581.40 589.60 595.20 602.80" y="200.55" font-size="12.3" text-anchor="middle" fill="#fff" stroke="#fff" stroke-width="0.12">1,20&#160;%</text>
<linearGradient id="g11" gradientUnits="userSpaceOnUse" x1="666.39" y1="167.18" x2="738.71" y2="221.42"><stop offset="0" stop-color="#e81a3c"/><stop offset="0.22" stop-color="#ec008c"/><stop offset="0.36" stop-color="#ec038a"/><stop offset="0.72" stop-color="#ee1744"/><stop offset="1" stop-color="#ed1941"/></linearGradient>
<rect x="660.75" y="175" width="83.6" height="38.6" fill="url(#g11)" filter="url(#sh)"/>
<line x1="664.95" y1="194.5" x2="740.15" y2="194.5" stroke="#ffc0e0" stroke-width="1"/>
<text x="685.40 692.65 699.90 709.80 719.70" y="191.2" font-size="16" text-anchor="middle" fill="#fff" stroke="#fff" stroke-width="0.45">4.332</text>
<text x="685.45 690.85 696.25 704.45 710.05 717.65" y="209.3" font-size="12.3" text-anchor="middle" fill="#fff" stroke="#fff" stroke-width="0.12">3,90&#160;%</text>
<linearGradient id="g12" gradientUnits="userSpaceOnUse" x1="802.39" y1="181.43" x2="874.71" y2="235.67"><stop offset="0" stop-color="#e81a3c"/><stop offset="0.22" stop-color="#ec008c"/><stop offset="0.36" stop-color="#ec038a"/><stop offset="0.72" stop-color="#ee1744"/><stop offset="1" stop-color="#ed1941"/></linearGradient>
<rect x="796.75" y="189.25" width="83.6" height="38.6" fill="url(#g12)" filter="url(#sh)"/>
<line x1="800.95" y1="208.5" x2="876.15" y2="208.5" stroke="#ffc0e0" stroke-width="1"/>
<text x="821.40 828.65 835.90 845.80 855.70" y="205.45" font-size="16" text-anchor="middle" fill="#fff" stroke="#fff" stroke-width="0.45">4.573</text>
<text x="818.95 825.35 830.75 834.55 841.15 846.75 854.35" y="223.55" font-size="12.3" text-anchor="middle" fill="#fff" stroke="#fff" stroke-width="0.12">-3,10&#160;%</text>
<linearGradient id="g13" gradientUnits="userSpaceOnUse" x1="212.64" y1="212.18" x2="284.96" y2="266.42"><stop offset="0" stop-color="#e81a3c"/><stop offset="0.22" stop-color="#ec008c"/><stop offset="0.36" stop-color="#ec038a"/><stop offset="0.72" stop-color="#ee1744"/><stop offset="1" stop-color="#ed1941"/></linearGradient>
<rect x="207" y="220" width="83.6" height="38.6" fill="url(#g13)" filter="url(#sh)"/>
<line x1="211.2" y1="238.5" x2="286.4" y2="238.5" stroke="#ffc0e0" stroke-width="1"/>
<text x="231.65 238.90 246.15 256.05 265.95" y="236.2" font-size="16" text-anchor="middle" fill="#fff" stroke="#fff" stroke-width="0.45">4.754</text>
<text x="231.70 237.10 242.50 250.70 256.30 263.90" y="254.3" font-size="12.3" text-anchor="middle" fill="#fff" stroke="#fff" stroke-width="0.12">2,20&#160;%</text>
<linearGradient id="g14" gradientUnits="userSpaceOnUse" x1="428.64" y1="224.18" x2="500.96" y2="278.42"><stop offset="0" stop-color="#e81a3c"/><stop offset="0.22" stop-color="#ec008c"/><stop offset="0.36" stop-color="#ec038a"/><stop offset="0.72" stop-color="#ee1744"/><stop offset="1" stop-color="#ed1941"/></linearGradient>
<rect x="423" y="232" width="83.6" height="38.6" fill="url(#g14)" filter="url(#sh)"/>
<line x1="427.2" y1="250.5" x2="502.4" y2="250.5" stroke="#ffc0e0" stroke-width="1"/>
<text x="447.65 454.90 462.15 472.05 481.95" y="248.2" font-size="16" text-anchor="middle" fill="#fff" stroke="#fff" stroke-width="0.45">4.909</text>
<text x="447.70 453.10 458.50 466.70 472.30 479.90" y="266.3" font-size="12.3" text-anchor="middle" fill="#fff" stroke="#fff" stroke-width="0.12">5,60&#160;%</text>
<linearGradient id="g15" gradientUnits="userSpaceOnUse" x1="708.14" y1="237.68" x2="780.46" y2="291.92"><stop offset="0" stop-color="#e81a3c"/><stop offset="0.22" stop-color="#ec008c"/><stop offset="0.36" stop-color="#ec038a"/><stop offset="0.72" stop-color="#ee1744"/><stop offset="1" stop-color="#ed1941"/></linearGradient>
<rect x="702.5" y="245.5" width="83.6" height="38.6" fill="url(#g15)" filter="url(#sh)"/>
<line x1="706.7" y1="264.5" x2="781.9" y2="264.5" stroke="#ffc0e0" stroke-width="1"/>
<text x="728.90 736.15 743.40 751.55 759.70" y="261.7" font-size="16" text-anchor="middle" fill="#fff" stroke="#fff" stroke-width="0.45">4.417</text>
<text x="727.20 732.60 738.00 746.20 751.80 759.40" y="279.8" font-size="12.3" text-anchor="middle" fill="#fff" stroke="#fff" stroke-width="0.12">3,40&#160;%</text>
<linearGradient id="g16" gradientUnits="userSpaceOnUse" x1="494.39" y1="287.93" x2="566.71" y2="342.17"><stop offset="0" stop-color="#e81a3c"/><stop offset="0.22" stop-color="#ec008c"/><stop offset="0.36" stop-color="#ec038a"/><stop offset="0.72" stop-color="#ee1744"/><stop offset="1" stop-color="#ed1941"/></linearGradient>
<rect x="488.75" y="295.75" width="83.6" height="38.6" fill="url(#g16)" filter="url(#sh)"/>
<line x1="492.95" y1="314.5" x2="568.15" y2="314.5" stroke="#ffc0e0" stroke-width="1"/>
<text x="513.40 520.65 527.90 537.80 547.70" y="311.95" font-size="16" text-anchor="middle" fill="#fff" stroke="#fff" stroke-width="0.45">5.750</text>
<text x="513.45 518.85 524.25 532.45 538.05 545.65" y="330.05" font-size="12.3" text-anchor="middle" fill="#fff" stroke="#fff" stroke-width="0.12">9,50&#160;%</text>
<linearGradient id="g17" gradientUnits="userSpaceOnUse" x1="823.89" y1="287.93" x2="896.21" y2="342.17"><stop offset="0" stop-color="#e81a3c"/><stop offset="0.22" stop-color="#ec008c"/><stop offset="0.36" stop-color="#ec038a"/><stop offset="0.72" stop-color="#ee1744"/><stop offset="1" stop-color="#ed1941"/></linearGradient>
<rect x="818.25" y="295.75" width="83.6" height="38.6" fill="url(#g17)" filter="url(#sh)"/>
<line x1="822.45" y1="314.5" x2="897.65" y2="314.5" stroke="#ffc0e0" stroke-width="1"/>
<text x="844.65 851.90 857.40 865.55 875.45" y="311.95" font-size="16" text-anchor="middle" fill="#fff" stroke="#fff" stroke-width="0.45">4.139</text>
<text x="842.95 848.35 853.75 861.95 867.55 875.15" y="330.05" font-size="12.3" text-anchor="middle" fill="#fff" stroke="#fff" stroke-width="0.12">4,50&#160;%</text>
<linearGradient id="g18" gradientUnits="userSpaceOnUse" x1="338.89" y1="291.43" x2="411.21" y2="345.67"><stop offset="0" stop-color="#e81a3c"/><stop offset="0.22" stop-color="#ec008c"/><stop offset="0.36" stop-color="#ec038a"/><stop offset="0.72" stop-color="#ee1744"/><stop offset="1" stop-color="#ed1941"/></linearGradient>
<rect x="333.25" y="299.25" width="83.6" height="38.6" fill="url(#g18)" filter="url(#sh)"/>
<line x1="337.45" y1="318.5" x2="412.65" y2="318.5" stroke="#ffc0e0" stroke-width="1"/>
<text x="359.65 366.90 372.40 380.55 390.45" y="315.45" font-size="16" text-anchor="middle" fill="#fff" stroke="#fff" stroke-width="0.45">4.173</text>
<text x="353.85 360.25 365.65 371.05 379.25 384.85 392.45" y="333.55" font-size="12.3" text-anchor="middle" fill="#fff" stroke="#fff" stroke-width="0.12">-3,30&#160;%</text>
<linearGradient id="g19" gradientUnits="userSpaceOnUse" x1="617.64" y1="291.68" x2="689.96" y2="345.92"><stop offset="0" stop-color="#e81a3c"/><stop offset="0.22" stop-color="#ec008c"/><stop offset="0.36" stop-color="#ec038a"/><stop offset="0.72" stop-color="#ee1744"/><stop offset="1" stop-color="#ed1941"/></linearGradient>
<rect x="612" y="299.5" width="83.6" height="38.6" fill="url(#g19)" filter="url(#sh)"/>
<line x1="616.2" y1="318.5" x2="691.4" y2="318.5" stroke="#ffc0e0" stroke-width="1"/>
<text x="636.65 643.90 651.15 661.05 670.95" y="315.7" font-size="16" text-anchor="middle" fill="#fff" stroke="#fff" stroke-width="0.45">5.245</text>
<text x="636.70 642.10 647.50 655.70 661.30 668.90" y="333.8" font-size="12.3" text-anchor="middle" fill="#fff" stroke="#fff" stroke-width="0.12">3,50&#160;%</text>
<linearGradient id="g20" gradientUnits="userSpaceOnUse" x1="933.89" y1="298.43" x2="1006.21" y2="352.67"><stop offset="0" stop-color="#e81a3c"/><stop offset="0.22" stop-color="#ec008c"/><stop offset="0.36" stop-color="#ec038a"/><stop offset="0.72" stop-color="#ee1744"/><stop offset="1" stop-color="#ed1941"/></linearGradient>
<rect x="928.25" y="306.25" width="83.6" height="38.6" fill="url(#g20)" filter="url(#sh)"/>
<line x1="932.45" y1="325.5" x2="1007.65" y2="325.5" stroke="#ffc0e0" stroke-width="1"/>
<text x="954.65 961.90 969.15 977.30 985.45" y="322.45" font-size="16" text-anchor="middle" fill="#fff" stroke="#fff" stroke-width="0.45">4.917</text>
<text x="952.95 958.35 963.75 971.95 977.55 985.15" y="340.55" font-size="12.3" text-anchor="middle" fill="#fff" stroke="#fff" stroke-width="0.12">3,30&#160;%</text>
<linearGradient id="g21" gradientUnits="userSpaceOnUse" x1="166.94" y1="307.18" x2="239.26" y2="361.42"><stop offset="0" stop-color="#e81a3c"/><stop offset="0.22" stop-color="#ec008c"/><stop offset="0.36" stop-color="#ec038a"/><stop offset="0.72" stop-color="#ee1744"/><stop offset="1" stop-color="#ed1941"/></linearGradient>
<rect x="161.3" y="315" width="83.6" height="38.6" fill="url(#g21)" filter="url(#sh)"/>
<line x1="165.5" y1="334.5" x2="240.7" y2="334.5" stroke="#ffc0e0" stroke-width="1"/>
<text x="185.95 193.20 200.45 210.35 220.25" y="331.2" font-size="16" text-anchor="middle" fill="#fff" stroke="#fff" stroke-width="0.45">5.904</text>
<text x="186.00 191.40 196.80 205.00 210.60 218.20" y="349.3" font-size="12.3" text-anchor="middle" fill="#fff" stroke="#fff" stroke-width="0.12">2,60&#160;%</text>
<linearGradient id="g22" gradientUnits="userSpaceOnUse" x1="816.89" y1="372.18" x2="889.21" y2="426.42"><stop offset="0" stop-color="#e81a3c"/><stop offset="0.22" stop-color="#ec008c"/><stop offset="0.36" stop-color="#ec038a"/><stop offset="0.72" stop-color="#ee1744"/><stop offset="1" stop-color="#ed1941"/></linearGradient>
<rect x="811.25" y="380" width="83.6" height="38.6" fill="url(#g22)" filter="url(#sh)"/>
<line x1="815.45" y1="398.5" x2="890.65" y2="398.5" stroke="#ffc0e0" stroke-width="1"/>
<text x="837.65 844.90 852.15 860.30 868.45" y="396.2" font-size="16" text-anchor="middle" fill="#fff" stroke="#fff" stroke-width="0.45">4.514</text>
<text x="835.95 841.35 846.75 854.95 860.55 868.15" y="414.3" font-size="12.3" text-anchor="middle" fill="#fff" stroke="#fff" stroke-width="0.12">3,20&#160;%</text>
<linearGradient id="g23" gradientUnits="userSpaceOnUse" x1="588.89" y1="388.43" x2="661.21" y2="442.67"><stop offset="0" stop-color="#e81a3c"/><stop offset="0.22" stop-color="#ec008c"/><stop offset="0.36" stop-color="#ec038a"/><stop offset="0.72" stop-color="#ee1744"/><stop offset="1" stop-color="#ed1941"/></linearGradient>
<rect x="583.25" y="396.25" width="83.6" height="38.6" fill="url(#g23)" filter="url(#sh)"/>
<line x1="587.45" y1="415.5" x2="662.65" y2="415.5" stroke="#ffc0e0" stroke-width="1"/>
<text x="609.65 616.90 622.40 630.55 640.45" y="412.45" font-size="16" text-anchor="middle" fill="#fff" stroke="#fff" stroke-width="0.45">5.120</text>
<text x="609.55 614.95 618.75 625.35 630.95 638.55" y="430.55" font-size="12.3" text-anchor="middle" fill="#fff" stroke="#fff" stroke-width="0.12">3,10&#160;%</text>
<linearGradient id="g24" gradientUnits="userSpaceOnUse" x1="245.64" y1="400.18" x2="317.96" y2="454.42"><stop offset="0" stop-color="#e81a3c"/><stop offset="0.22" stop-color="#ec008c"/><stop offset="0.36" stop-color="#ec038a"/><stop offset="0.72" stop-color="#ee1744"/><stop offset="1" stop-color="#ed1941"/></linearGradient>
<rect x="240" y="408" width="83.6" height="38.6" fill="url(#g24)" filter="url(#sh)"/>
<line x1="244.2" y1="426.5" x2="319.4" y2="426.5" stroke="#ffc0e0" stroke-width="1"/>
<text x="264.65 271.90 279.15 289.05 298.95" y="424.2" font-size="16" text-anchor="middle" fill="#fff" stroke="#fff" stroke-width="0.45">4.468</text>
<text x="264.70 270.10 275.50 283.70 289.30 296.90" y="442.3" font-size="12.3" text-anchor="middle" fill="#fff" stroke="#fff" stroke-width="0.12">0,00&#160;%</text>
<linearGradient id="g25" gradientUnits="userSpaceOnUse" x1="716.39" y1="401.68" x2="788.71" y2="455.92"><stop offset="0" stop-color="#e81a3c"/><stop offset="0.22" stop-color="#ec008c"/><stop offset="0.36" stop-color="#ec038a"/><stop offset="0.72" stop-color="#ee1744"/><stop offset="1" stop-color="#ed1941"/></linearGradient>
<rect x="710.75" y="409.5" width="83.6" height="38.6" fill="url(#g25)" filter="url(#sh)"/>
<line x1="714.95" y1="428.5" x2="790.15" y2="428.5" stroke="#ffc0e0" stroke-width="1"/>
<text x="735.40 742.65 749.90 759.80 769.70" y="425.7" font-size="16" text-anchor="middle" fill="#fff" stroke="#fff" stroke-width="0.45">4.985</text>
<text x="737.05 742.45 746.25 752.85 758.45 766.05" y="443.8" font-size="12.3" text-anchor="middle" fill="#fff" stroke="#fff" stroke-width="0.12">4,10&#160;%</text>
<linearGradient id="g26" gradientUnits="userSpaceOnUse" x1="1056.14" y1="405.43" x2="1128.46" y2="459.67"><stop offset="0" stop-color="#e81a3c"/><stop offset="0.22" stop-color="#ec008c"/><stop offset="0.36" stop-color="#ec038a"/><stop offset="0.72" stop-color="#ee1744"/><stop offset="1" stop-color="#ed1941"/></linearGradient>
<rect x="1050.5" y="413.25" width="83.6" height="38.6" fill="url(#g26)" filter="url(#sh)"/>
<line x1="1054.7" y1="432.5" x2="1129.9" y2="432.5" stroke="#ffc0e0" stroke-width="1"/>
<text x="1075.15 1082.40 1089.65 1099.55 1109.45" y="429.45" font-size="16" text-anchor="middle" fill="#fff" stroke="#fff" stroke-width="0.45">4.554</text>
<text x="1076.80 1080.60 1084.40 1091.00 1096.60 1104.20" y="447.55" font-size="12.3" text-anchor="middle" fill="#fff" stroke="#fff" stroke-width="0.12">1,10&#160;%</text>
<linearGradient id="g27" gradientUnits="userSpaceOnUse" x1="493.89" y1="404.68" x2="566.21" y2="458.92"><stop offset="0" stop-color="#e81a3c"/><stop offset="0.22" stop-color="#ec008c"/><stop offset="0.36" stop-color="#ec038a"/><stop offset="0.72" stop-color="#ee1744"/><stop offset="1" stop-color="#ed1941"/></linearGradient>
<rect x="488.25" y="412.5" width="83.6" height="38.6" fill="url(#g27)" filter="url(#sh)"/>
<line x1="492.45" y1="431.5" x2="567.65" y2="431.5" stroke="#ffc0e0" stroke-width="1"/>
<text x="512.90 520.15 527.40 537.30 547.20" y="428.7" font-size="16" text-anchor="middle" fill="#fff" stroke="#fff" stroke-width="0.45">4.320</text>
<text x="512.95 518.35 523.75 531.95 537.55 545.15" y="446.8" font-size="12.3" text-anchor="middle" fill="#fff" stroke="#fff" stroke-width="0.12">6,70&#160;%</text>
<linearGradient id="g28" gradientUnits="userSpaceOnUse" x1="928.39" y1="408.43" x2="1000.71" y2="462.67"><stop offset="0" stop-color="#e81a3c"/><stop offset="0.22" stop-color="#ec008c"/><stop offset="0.36" stop-color="#ec038a"/><stop offset="0.72" stop-color="#ee1744"/><stop offset="1" stop-color="#ed1941"/></linearGradient>
<rect x="922.75" y="416.25" width="83.6" height="38.6" fill="url(#g28)" filter="url(#sh)"/>
<line x1="926.95" y1="435.5" x2="1002.15" y2="435.5" stroke="#ffc0e0" stroke-width="1"/>
<text x="947.40 954.65 961.90 971.80 981.70" y="432.45" font-size="16" text-anchor="middle" fill="#fff" stroke="#fff" stroke-width="0.45">4.448</text>
<text x="947.45 952.85 958.25 966.45 972.05 979.65" y="450.55" font-size="12.3" text-anchor="middle" fill="#fff" stroke="#fff" stroke-width="0.12">3,60&#160;%</text>
<linearGradient id="g29" gradientUnits="userSpaceOnUse" x1="402.64" y1="431.43" x2="474.96" y2="485.67"><stop offset="0" stop-color="#e81a3c"/><stop offset="0.22" stop-color="#ec008c"/><stop offset="0.36" stop-color="#ec038a"/><stop offset="0.72" stop-color="#ee1744"/><stop offset="1" stop-color="#ed1941"/></linearGradient>
<rect x="397" y="439.25" width="83.6" height="38.6" fill="url(#g29)" filter="url(#sh)"/>
<line x1="401.2" y1="458.5" x2="476.4" y2="458.5" stroke="#ffc0e0" stroke-width="1"/>
<text x="421.65 428.90 436.15 446.05 455.95" y="455.45" font-size="16" text-anchor="middle" fill="#fff" stroke="#fff" stroke-width="0.45">4.743</text>
<text x="421.70 427.10 432.50 440.70 446.30 453.90" y="473.55" font-size="12.3" text-anchor="middle" fill="#fff" stroke="#fff" stroke-width="0.12">0,70&#160;%</text>
<linearGradient id="g30" gradientUnits="userSpaceOnUse" x1="674.89" y1="450.93" x2="747.21" y2="505.17"><stop offset="0" stop-color="#e81a3c"/><stop offset="0.22" stop-color="#ec008c"/><stop offset="0.36" stop-color="#ec038a"/><stop offset="0.72" stop-color="#ee1744"/><stop offset="1" stop-color="#ed1941"/></linearGradient>
<rect x="669.25" y="458.75" width="83.6" height="38.6" fill="url(#g30)" filter="url(#sh)"/>
<line x1="673.45" y1="477.5" x2="748.65" y2="477.5" stroke="#ffc0e0" stroke-width="1"/>
<text x="693.90 701.15 708.40 718.30 728.20" y="474.95" font-size="16" text-anchor="middle" fill="#fff" stroke="#fff" stroke-width="0.45">4.563</text>
<text x="693.95 699.35 704.75 712.95 718.55 726.15" y="493.05" font-size="12.3" text-anchor="middle" fill="#fff" stroke="#fff" stroke-width="0.12">2,80&#160;%</text>
<linearGradient id="g31" gradientUnits="userSpaceOnUse" x1="819.39" y1="475.43" x2="891.71" y2="529.67"><stop offset="0" stop-color="#e81a3c"/><stop offset="0.22" stop-color="#ec008c"/><stop offset="0.36" stop-color="#ec038a"/><stop offset="0.72" stop-color="#ee1744"/><stop offset="1" stop-color="#ed1941"/></linearGradient>
<rect x="813.75" y="483.25" width="83.6" height="38.6" fill="url(#g31)" filter="url(#sh)"/>
<line x1="817.95" y1="502.5" x2="893.15" y2="502.5" stroke="#ffc0e0" stroke-width="1"/>
<text x="838.40 845.65 852.90 862.80 872.70" y="499.45" font-size="16" text-anchor="middle" fill="#fff" stroke="#fff" stroke-width="0.45">4.470</text>
<text x="838.45 843.85 849.25 857.45 863.05 870.65" y="517.55" font-size="12.3" text-anchor="middle" fill="#fff" stroke="#fff" stroke-width="0.12">0,70&#160;%</text>
<linearGradient id="g32" gradientUnits="userSpaceOnUse" x1="320.64" y1="519.18" x2="392.96" y2="573.42"><stop offset="0" stop-color="#e81a3c"/><stop offset="0.22" stop-color="#ec008c"/><stop offset="0.36" stop-color="#ec038a"/><stop offset="0.72" stop-color="#ee1744"/><stop offset="1" stop-color="#ed1941"/></linearGradient>
<rect x="315" y="527" width="83.6" height="38.6" fill="url(#g32)" filter="url(#sh)"/>
<line x1="319.2" y1="546.5" x2="394.4" y2="546.5" stroke="#ffc0e0" stroke-width="1"/>
<text x="339.65 346.90 354.15 364.05 373.95" y="543.2" font-size="16" text-anchor="middle" fill="#fff" stroke="#fff" stroke-width="0.45">4.602</text>
<text x="339.70 345.10 350.50 358.70 364.30 371.90" y="561.3" font-size="12.3" text-anchor="middle" fill="#fff" stroke="#fff" stroke-width="0.12">7,00&#160;%</text>
<linearGradient id="g33" gradientUnits="userSpaceOnUse" x1="533.94" y1="544.68" x2="606.26" y2="598.92"><stop offset="0" stop-color="#e81a3c"/><stop offset="0.22" stop-color="#ec008c"/><stop offset="0.36" stop-color="#ec038a"/><stop offset="0.72" stop-color="#ee1744"/><stop offset="1" stop-color="#ed1941"/></linearGradient>
<rect x="528.3" y="552.5" width="83.6" height="38.6" fill="url(#g33)" filter="url(#sh)"/>
<line x1="532.5" y1="571.5" x2="607.7" y2="571.5" stroke="#ffc0e0" stroke-width="1"/>
<text x="552.95 560.20 567.45 577.35 587.25" y="568.7" font-size="16" text-anchor="middle" fill="#fff" stroke="#fff" stroke-width="0.45">4.972</text>
<text x="548.90 555.30 560.70 566.10 574.30 579.90 587.50" y="586.8" font-size="12.3" text-anchor="middle" fill="#fff" stroke="#fff" stroke-width="0.12">-5,00&#160;%</text>
<linearGradient id="g34" gradientUnits="userSpaceOnUse" x1="1009.94" y1="544.68" x2="1082.26" y2="598.92"><stop offset="0" stop-color="#e81a3c"/><stop offset="0.22" stop-color="#ec008c"/><stop offset="0.36" stop-color="#ec038a"/><stop offset="0.72" stop-color="#ee1744"/><stop offset="1" stop-color="#ed1941"/></linearGradient>
<rect x="1004.3" y="552.5" width="83.6" height="38.6" fill="url(#g34)" filter="url(#sh)"/>
<line x1="1008.5" y1="571.5" x2="1083.7" y2="571.5" stroke="#ffc0e0" stroke-width="1"/>
<text x="1028.95 1036.20 1043.45 1053.35 1063.25" y="568.7" font-size="16" text-anchor="middle" fill="#fff" stroke="#fff" stroke-width="0.45">4.847</text>
<text x="1029.00 1034.40 1039.80 1048.00 1053.60 1061.20" y="586.8" font-size="12.3" text-anchor="middle" fill="#fff" stroke="#fff" stroke-width="0.12">0,40&#160;%</text>
<linearGradient id="g35" gradientUnits="userSpaceOnUse" x1="894.39" y1="552.18" x2="966.71" y2="606.42"><stop offset="0" stop-color="#e81a3c"/><stop offset="0.22" stop-color="#ec008c"/><stop offset="0.36" stop-color="#ec038a"/><stop offset="0.72" stop-color="#ee1744"/><stop offset="1" stop-color="#ed1941"/></linearGradient>
<rect x="888.75" y="560" width="83.6" height="38.6" fill="url(#g35)" filter="url(#sh)"/>
<line x1="892.95" y1="578.5" x2="968.15" y2="578.5" stroke="#ffc0e0" stroke-width="1"/>
<text x="913.40 920.65 927.90 937.80 947.70" y="576.2" font-size="16" text-anchor="middle" fill="#fff" stroke="#fff" stroke-width="0.45">4.443</text>
<text x="913.45 917.25 922.65 930.85 936.45 944.05" y="594.3" font-size="12.3" text-anchor="middle" fill="#fff" stroke="#fff" stroke-width="0.12">1,70&#160;%</text>
<linearGradient id="g36" gradientUnits="userSpaceOnUse" x1="421.44" y1="566.38" x2="493.76" y2="620.62"><stop offset="0" stop-color="#e81a3c"/><stop offset="0.22" stop-color="#ec008c"/><stop offset="0.36" stop-color="#ec038a"/><stop offset="0.72" stop-color="#ee1744"/><stop offset="1" stop-color="#ed1941"/></linearGradient>
<rect x="415.8" y="574.2" width="83.6" height="38.6" fill="url(#g36)" filter="url(#sh)"/>
<line x1="420" y1="593.5" x2="495.2" y2="593.5" stroke="#ffc0e0" stroke-width="1"/>
<text x="440.45 447.70 454.95 464.85 474.75" y="590.4" font-size="16" text-anchor="middle" fill="#fff" stroke="#fff" stroke-width="0.45">4.826</text>
<text x="442.10 447.50 451.30 457.90 463.50 471.10" y="608.5" font-size="12.3" text-anchor="middle" fill="#fff" stroke="#fff" stroke-width="0.12">4,10&#160;%</text>
<linearGradient id="g37" gradientUnits="userSpaceOnUse" x1="738.94" y1="565.88" x2="811.26" y2="620.12"><stop offset="0" stop-color="#e81a3c"/><stop offset="0.22" stop-color="#ec008c"/><stop offset="0.36" stop-color="#ec038a"/><stop offset="0.72" stop-color="#ee1744"/><stop offset="1" stop-color="#ed1941"/></linearGradient>
<rect x="733.3" y="573.7" width="83.6" height="38.6" fill="url(#g37)" filter="url(#sh)"/>
<line x1="737.5" y1="592.5" x2="812.7" y2="592.5" stroke="#ffc0e0" stroke-width="1"/>
<text x="759.70 766.95 774.20 784.10 792.25" y="589.9" font-size="16" text-anchor="middle" fill="#fff" stroke="#fff" stroke-width="0.45">4.341</text>
<text x="758.00 761.80 767.20 775.40 781.00 788.60" y="608" font-size="12.3" text-anchor="middle" fill="#fff" stroke="#fff" stroke-width="0.12">1,50&#160;%</text>
</svg>
</body></html>
